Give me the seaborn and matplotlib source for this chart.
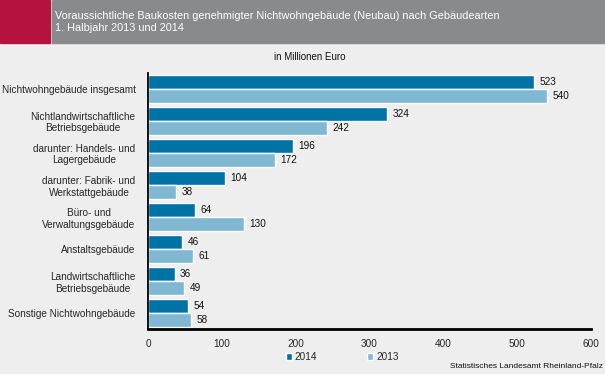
import matplotlib
matplotlib.use("Agg")
import matplotlib.pyplot as plt
import seaborn as sns
import pandas as pd
from matplotlib.patches import Rectangle

categories = [
    "Nichtwohngebäude insgesamt",
    "Nichtlandwirtschaftliche\nBetriebsgebäude",
    "darunter: Handels- und\nLagergebäude",
    "darunter: Fabrik- und\nWerkstattgebäude",
    "Büro- und\nVerwaltungsgebäude",
    "Anstaltsgebäude",
    "Landwirtschaftliche\nBetriebsgebäude",
    "Sonstige Nichtwohngebäude",
]
values_2014 = [523, 324, 196, 104, 64, 46, 36, 54]
values_2013 = [540, 242, 172, 38, 130, 61, 49, 58]
years = ["2014", "2013"]
x_ticks = [0, 100, 200, 300, 400, 500, 600]

bg = "#edeeed"
dark = "#0072a3"
light = "#80b8d4"

df = pd.DataFrame({
    "Kategorie": categories * 2,
    "Wert": values_2014 + values_2013,
    "Jahr": [years[0]] * len(categories) + [years[1]] * len(categories),
})

sns.set_style("white")
plt.rcParams["font.family"] = ["Liberation Sans", "DejaVu Sans"]

fig = plt.figure(figsize=(6.05, 3.74), dpi=100, facecolor=bg)
ax = fig.add_axes([148 / 605, 1 - 329.3 / 374, 443 / 605, (329.3 - 72.7) / 374])
ax.set_facecolor(bg)

sns.barplot(data=df, y="Kategorie", x="Wert", hue="Jahr", hue_order=years,
            palette=[dark, light], orient="h", width=0.86, gap=0,
            saturation=1, ax=ax)

for cont in ax.containers:
    ax.bar_label(cont, padding=4, fontsize=7.2, color="#111111")

ax.set_xlim(0, 600)
ax.set_xticks(x_ticks)
ax.set_xticklabels([str(t) for t in x_ticks], fontsize=7.2)
ax.set_ylim(len(categories) - 0.5, -0.5)
ax.set_ylabel("")
ax.set_xlabel("")

# y ticks sit between the groups
ax.set_yticks(range(len(categories)))
ax.set_yticklabels(categories, fontsize=7.2, multialignment="center")
ax.tick_params(axis="y", length=0, pad=9)
ax.set_yticks([i - 0.5 for i in range(len(categories) + 1)], minor=True)
ax.tick_params(axis="y", which="minor", length=4, width=1.3, color="black")
ax.tick_params(axis="x", length=4, width=1.5, color="black", pad=3)

for s in ["top", "right"]:
    ax.spines[s].set_visible(False)
ax.spines["left"].set_linewidth(1.3)
ax.spines["left"].set_color("black")
ax.spines["bottom"].set_linewidth(2)
ax.spines["bottom"].set_color("black")
ax.grid(False)

sns.move_legend(ax, "center", bbox_to_anchor=(342 / 605, 1 - 357 / 374),
                bbox_transform=fig.transFigure, ncol=2, frameon=False,
                title=None, fontsize=7.2, handlelength=0.6, handleheight=0.6,
                handletextpad=0.3, columnspacing=5)

# header band
fig.patches.append(Rectangle((0, 1 - 43 / 374), 49.5 / 605, 43 / 374,
                             transform=fig.transFigure, color="#b5123f", zorder=0))
fig.patches.append(Rectangle((52 / 605, 1 - 43 / 374), 553 / 605, 43 / 374,
                             transform=fig.transFigure, color="#898a8c", zorder=0))
fig.text(55 / 605, 1 - 15.7 / 374,
         "Voraussichtliche Baukosten genehmigter Nichtwohngebäude (Neubau) nach Gebäudearten",
         color="white", fontsize=7.8, va="center", ha="left")
fig.text(55 / 605, 1 - 27.7 / 374, "1. Halbjahr 2013 und 2014",
         color="white", fontsize=7.8, va="center", ha="left")

fig.text(310 / 605, 1 - 57 / 374, "in Millionen Euro", fontsize=7,
         ha="center", va="center", color="#111111")
fig.text(603 / 605, 1 - 366.5 / 374, "Statistisches Landesamt Rheinland-Pfalz",
         fontsize=6, ha="right", va="center", color="#111111")

fig.savefig("out.png", dpi=100, facecolor=bg)
